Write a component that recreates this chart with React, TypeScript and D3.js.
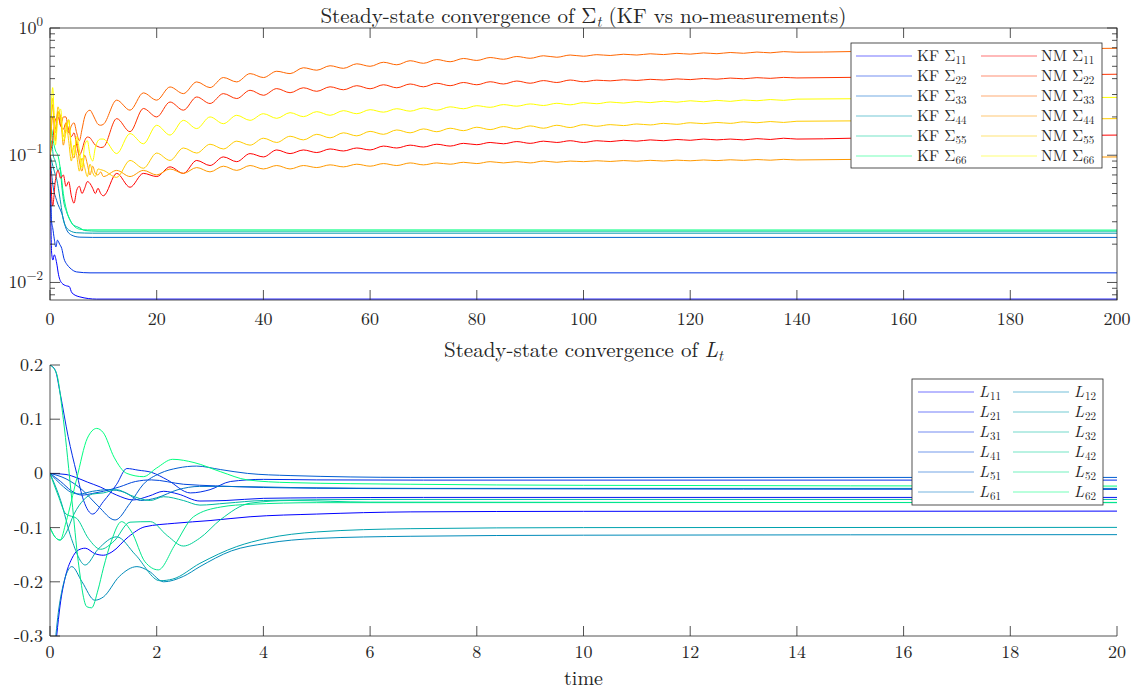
import React from 'react';
import * as d3 from 'd3';

// ---------- top panel: covariance diagonal, KF vs no-measurements ----------
const kf11 = [[0, 0.1], [0.1, 0.05], [0.2, 0.025], [0.31, 0.017], [0.55, 0.015], [0.8, 0.0165], [1.25, 0.0142], [1.6, 0.0115], [2.2, 0.0099], [3.1, 0.0094], [3.6, 0.0093], [4.1, 0.0083], [5.6, 0.0077], [8.75, 0.0074], [200, 0.0074]];
const kf22 = [[0, 0.1], [0.1, 0.06], [0.3, 0.03], [0.5, 0.027], [0.8, 0.022], [1.1, 0.019], [1.4, 0.0215], [1.8, 0.02], [2.2, 0.0185], [2.6, 0.0155], [3.2, 0.0138], [3.75, 0.013], [5, 0.0121], [7.5, 0.0119], [200, 0.0119]];
const kf33 = [[0, 0.1], [0.5, 0.06], [1.25, 0.044], [2.2, 0.035], [3.1, 0.026], [4.1, 0.0235], [5.6, 0.0227], [8, 0.0226], [200, 0.0226]];
const kf44 = [[0, 0.1], [0.3, 0.09], [0.8, 0.075], [1.25, 0.065], [1.9, 0.045], [2.5, 0.031], [3.1, 0.027], [3.75, 0.0255], [5, 0.0246], [8, 0.0244], [200, 0.0244]];
const kf55 = [[0, 0.1], [0.3, 0.13], [0.6, 0.1], [1.0, 0.09], [1.5, 0.075], [1.9, 0.08], [2.2, 0.058], [2.5, 0.045], [3.1, 0.036], [3.75, 0.031], [4.4, 0.0282], [5, 0.0275], [5.6, 0.0268], [6.5, 0.0256], [9, 0.0253], [200, 0.0253]];
const kf66 = [[0, 0.1], [0.3, 0.16], [0.6, 0.13], [1.0, 0.11], [1.56, 0.097], [2.0, 0.075], [2.5, 0.05], [3.1, 0.037], [3.75, 0.031], [4.7, 0.0273], [5.6, 0.0262], [7, 0.0259], [200, 0.0258]];

const nmTimeEarly = [0, 0.5, 1, 1.5, 2, 2.5, 3, 3.5, 4, 4.5, 5, 5.5, 6, 6.5, 7, 7.5, 8, 8.5, 9, 9.5];
const nmTimeWave = [10, 12.5, 15, 17.5, 20, 22.5, 25, 27.5, 30, 32.5, 35, 37.5, 40, 42.5, 45, 47.5, 50, 52.5, 55, 57.5, 60, 62.5, 65, 67.5, 70, 72.5, 75, 77.5, 80, 82.5, 85, 87.5, 90, 92.5, 95, 97.5, 100,
  102.5, 105, 107.5, 110, 112.5, 115, 117.5, 120, 122.5, 125, 127.5, 130, 132.5, 135, 137.5, 140];
const nmTimeTail = [160, 180, 200];

const nm11 = [0.1, 0.04, 0.063, 0.076, 0.066, 0.07, 0.057, 0.062, 0.048, 0.042, 0.053, 0.057, 0.05, 0.055, 0.062, 0.06, 0.055, 0.05, 0.055, 0.05,
  0.048, 0.072, 0.056, 0.072, 0.068, 0.081, 0.072, 0.091, 0.083, 0.097, 0.089, 0.103, 0.097, 0.110, 0.103, 0.110, 0.105, 0.112, 0.108, 0.114, 0.110, 0.118, 0.114, 0.120, 0.116, 0.122, 0.118, 0.124, 0.121, 0.126, 0.123, 0.128, 0.124, 0.129, 0.126, 0.130, 0.126,
  0.130, 0.128, 0.131, 0.129, 0.132, 0.130, 0.133, 0.131, 0.134, 0.132, 0.134, 0.132, 0.135, 0.133, 0.136, 0.134,
  0.139, 0.142, 0.144];
const nm22 = [0.1, 0.13, 0.19, 0.2, 0.17, 0.16, 0.18, 0.16, 0.14, 0.15, 0.12, 0.1, 0.11, 0.13, 0.139, 0.137, 0.128, 0.12, 0.117, 0.115,
  0.116, 0.194, 0.153, 0.233, 0.200, 0.262, 0.226, 0.287, 0.255, 0.305, 0.279, 0.324, 0.296, 0.334, 0.310, 0.339, 0.318, 0.345, 0.327, 0.352, 0.333, 0.358, 0.339, 0.363, 0.345, 0.368, 0.352, 0.373, 0.358, 0.378, 0.363, 0.383, 0.368, 0.386, 0.373, 0.390, 0.378,
  0.389, 0.384, 0.392, 0.387, 0.395, 0.390, 0.398, 0.393, 0.401, 0.396, 0.404, 0.399, 0.407, 0.402, 0.409, 0.405,
  0.416, 0.425, 0.433];
const nm33 = [0.1, 0.2, 0.16, 0.22, 0.17, 0.2, 0.2, 0.15, 0.17, 0.18, 0.15, 0.13, 0.16, 0.2, 0.22, 0.226, 0.21, 0.19, 0.175, 0.172,
  0.175, 0.271, 0.226, 0.309, 0.271, 0.344, 0.305, 0.377, 0.340, 0.408, 0.377, 0.438, 0.408, 0.457, 0.438, 0.487, 0.466, 0.505, 0.482, 0.523, 0.500, 0.538, 0.514, 0.553, 0.528, 0.565, 0.543, 0.576, 0.556, 0.586, 0.568, 0.597, 0.578, 0.605, 0.589, 0.613, 0.600,
  0.617, 0.608, 0.622, 0.613, 0.627, 0.618, 0.632, 0.623, 0.637, 0.628, 0.642, 0.633, 0.647, 0.638, 0.652, 0.645,
  0.665, 0.680, 0.693];
const nm44 = [0.1, 0.25, 0.13, 0.22, 0.2, 0.12, 0.16, 0.19, 0.11, 0.095, 0.13, 0.09, 0.075, 0.1, 0.085, 0.07, 0.082, 0.072, 0.07, 0.074,
  0.068, 0.076, 0.068, 0.076, 0.070, 0.078, 0.072, 0.080, 0.074, 0.082, 0.076, 0.083, 0.078, 0.083, 0.078, 0.083, 0.080, 0.084, 0.081, 0.085, 0.082, 0.086, 0.083, 0.087, 0.084, 0.087, 0.085, 0.088, 0.086, 0.089, 0.087, 0.089, 0.087, 0.090, 0.088, 0.090, 0.089,
  0.0905, 0.0893, 0.0908, 0.0897, 0.0912, 0.0900, 0.0915, 0.0904, 0.0918, 0.0907, 0.0921, 0.0911, 0.0925, 0.0914, 0.0928, 0.0918,
  0.094, 0.0955, 0.097];
const nm55 = [0.1, 0.28, 0.15, 0.24, 0.19, 0.14, 0.18, 0.13, 0.09, 0.12, 0.1, 0.075, 0.095, 0.08, 0.068, 0.085, 0.073, 0.068, 0.078, 0.077,
  0.076, 0.067, 0.091, 0.079, 0.104, 0.091, 0.114, 0.104, 0.122, 0.112, 0.129, 0.120, 0.136, 0.126, 0.141, 0.132, 0.146, 0.137, 0.150, 0.142, 0.154, 0.146, 0.158, 0.150, 0.161, 0.153, 0.163, 0.156, 0.166, 0.159, 0.168, 0.161, 0.170, 0.163, 0.172, 0.165, 0.174,
  0.169, 0.174, 0.171, 0.176, 0.173, 0.178, 0.175, 0.180, 0.177, 0.181, 0.178, 0.183, 0.180, 0.184, 0.181, 0.185,
  0.187, 0.191, 0.194];
const nm66 = [0.1, 0.34, 0.12, 0.2, 0.23, 0.13, 0.15, 0.19, 0.12, 0.1, 0.14, 0.11, 0.08, 0.12, 0.13, 0.1, 0.09, 0.115, 0.13, 0.134,
  0.134, 0.103, 0.148, 0.123, 0.172, 0.144, 0.188, 0.162, 0.200, 0.177, 0.206, 0.188, 0.212, 0.195, 0.216, 0.201, 0.220, 0.206, 0.224, 0.212, 0.228, 0.218, 0.232, 0.222, 0.235, 0.226, 0.240, 0.232, 0.245, 0.238, 0.250, 0.243, 0.253, 0.246, 0.256, 0.249, 0.259,
  0.254, 0.262, 0.257, 0.264, 0.259, 0.266, 0.261, 0.268, 0.263, 0.270, 0.265, 0.272, 0.268, 0.274, 0.270, 0.276,
  0.279, 0.282, 0.285];

const kfNames = ['11', '22', '33', '44', '55', '66'];
const kfColors = ['#0000ff', '#0033e6', '#0066cc', '#0099b3', '#00cc99', '#00ff80'];
const nmColors = ['#ff0000', '#ff3300', '#ff6600', '#ff9900', '#ffcc00', '#ffff00'];

// ---------- bottom panel: gain entries ----------
const L11 = [[0, -0.45], [0.125, -0.3], [0.19, -0.243], [0.28, -0.194], [0.41, -0.157], [0.53, -0.1415], [0.66, -0.138], [0.84, -0.148], [1.0, -0.151], [1.16, -0.145], [1.47, -0.117], [1.78, -0.0985], [2.34, -0.092], [3, -0.087], [3.75, -0.08], [5, -0.075], [6.75, -0.071], [10, -0.07], [20, -0.0696]];
const L21 = [[0, 0], [0.3, -0.002], [0.5, -0.008], [0.7, -0.016], [0.94, -0.025], [1.25, -0.04], [1.56, -0.049], [1.85, -0.042], [2.13, -0.033], [2.4, -0.038], [2.81, -0.051], [3.3, -0.05], [4, -0.046], [5, -0.045], [7, -0.0443], [20, -0.0443]];
const L31 = [[0, 0.2], [0.1, 0.19], [0.19, 0.148], [0.34, 0.068], [0.5, 0], [0.63, -0.05], [0.8, -0.075], [1.0, -0.052], [1.25, -0.02], [1.44, 0.009], [1.65, 0.006], [1.9, 0.002], [2.2, -0.012], [2.63, -0.036], [3.0, -0.03], [3.38, -0.015], [4, -0.011], [5, -0.012], [7, -0.0124], [20, -0.0124]];
const L41 = [[0, 0], [0.2, -0.015], [0.4, -0.032], [0.6, -0.04], [0.8, -0.037], [1.0, -0.033], [1.3, -0.025], [1.6, -0.015], [1.9, -0.012], [2.5, -0.02], [3.1, -0.023], [4, -0.026], [6, -0.028], [20, -0.0295]];
const L51 = [[0, 0], [0.3, -0.01], [0.6, -0.03], [0.9, -0.06], [1.22, -0.086], [1.5, -0.055], [1.75, -0.02], [2.06, 0], [2.4, 0.01], [2.75, 0.0135], [3.2, 0.007], [3.7, 0], [4.5, -0.004], [6.75, -0.0074], [20, -0.0074]];
const L61 = [[0, 0], [0.2, -0.02], [0.4, -0.035], [0.55, -0.038], [0.8, -0.033], [1.1, -0.03], [1.4, -0.035], [1.7, -0.05], [2.0, -0.045], [2.4, -0.03], [2.8, -0.024], [3.3, -0.024], [4.5, -0.026], [7, -0.0277], [20, -0.0277]];
const L12 = [[0, -0.45], [0.1, -0.31], [0.19, -0.234], [0.41, -0.172], [0.6, -0.2], [0.84, -0.234], [1.0, -0.228], [1.3, -0.19], [1.63, -0.172], [1.85, -0.18], [2.13, -0.2], [2.5, -0.19], [2.81, -0.172], [3.4, -0.143], [4.06, -0.129], [5, -0.12], [6.75, -0.116], [10, -0.114], [20, -0.113]];
const L22 = [[0, 0], [0.2, -0.05], [0.4, -0.12], [0.66, -0.169], [0.9, -0.14], [1.25, -0.117], [1.6, -0.15], [2.06, -0.198], [2.3, -0.195], [2.81, -0.166], [3.5, -0.135], [4.06, -0.12], [5, -0.108], [6.75, -0.102], [10, -0.1], [20, -0.0996]];
const L32 = [[0, -0.1], [0.1, -0.118], [0.19, -0.123], [0.3, -0.11], [0.45, -0.075], [0.63, -0.049], [0.8, -0.038], [1.0, -0.036], [1.25, -0.03], [1.5, -0.04], [1.88, -0.05], [2.13, -0.043], [2.5, -0.05], [2.81, -0.0585], [3.3, -0.055], [4, -0.05], [6, -0.048], [20, -0.048]];
const L42 = [[0, 0], [0.15, -0.04], [0.3, -0.075], [0.5, -0.083], [0.72, -0.12], [0.95, -0.14], [1.2, -0.125], [1.5, -0.09], [1.88, -0.089], [2.2, -0.115], [2.5, -0.134], [2.8, -0.12], [3.2, -0.085], [3.75, -0.055], [4.5, -0.05], [6, -0.053], [20, -0.054]];
const L52 = [[0, 0.2], [0.12, 0.185], [0.25, 0.1], [0.41, -0.049], [0.53, -0.163], [0.69, -0.246], [0.78, -0.248], [0.9, -0.215], [1.0, -0.175], [1.15, -0.125], [1.34, -0.089], [1.53, -0.108], [1.78, -0.163], [2.03, -0.178], [2.34, -0.132], [2.69, -0.08], [3.2, -0.062], [3.75, -0.057], [5, -0.054], [20, -0.0535]];
const L62 = [[0, -0.1], [0.1, -0.118], [0.19, -0.123], [0.3, -0.09], [0.5, -0.01], [0.7, 0.065], [0.875, 0.083], [1.0, 0.075], [1.2, 0.03], [1.44, 0], [1.75, -0.006], [2.0, 0.01], [2.3, 0.026], [2.7, 0.02], [3.2, 0.003], [3.7, -0.012], [4.5, -0.017], [6.75, -0.02], [10, -0.022], [20, -0.0234]];

const gainNames = ['11', '21', '31', '41', '51', '61', '12', '22', '32', '42', '52', '62'];
const gainColors = ['#0000ff', '#0017f3', '#002ee8', '#0046dc', '#005dd1', '#0074c5', '#008bb9', '#00a2ae', '#00b9a2', '#00d197', '#00e88b', '#00ff80'];

const topXTicks = [0, 20, 40, 60, 80, 100, 120, 140, 160, 180, 200];
const botXTicks = [0, 2, 4, 6, 8, 10, 12, 14, 16, 18, 20];
const botYTicks = [0.2, 0.1, 0, -0.1, -0.2, -0.3];
const botYLabels = ['0.2', '0.1', '0', '-0.1', '-0.2', '-0.3'];

const FONT = "'Latin Modern Roman','CMU Serif','DejaVu Serif',serif";
const AX = '#262626';
const TICK_FS = 18;
const TITLE_FS = 21;

const App = () => {
  const W = 1138, H = 690;
  const L = 50, R = 1117;

  const xTop = d3.scaleLinear().domain([0, 200]).range([L, R]);
  const yTop = d3.scaleLog().domain([0.00728, 1]).range([300, 28]);
  const xBot = d3.scaleLinear().domain([0, 20]).range([L, R]);
  const yBot = d3.scaleLinear().domain([-0.3, 0.2]).range([636, 365]);

  const lineTop = d3.line().x(d => xTop(d[0])).y(d => yTop(d[1])).curve(d3.curveMonotoneX);
  const lineBot = d3.line().x(d => xBot(d[0])).y(d => yBot(d[1])).curve(d3.curveMonotoneX);

  const nmTime = [...nmTimeEarly, ...nmTimeWave, ...nmTimeTail];
  const kfSeries = [kf11, kf22, kf33, kf44, kf55, kf66];
  const nmSeries = [nm11, nm22, nm33, nm44, nm55, nm66].map(vals => vals.map((v, i) => [nmTime[i], v]));
  const gainSeries = [L11, L21, L31, L41, L51, L61, L12, L22, L32, L42, L52, L62];

  const logTicks = yTop.ticks();
  const isMajor = v => Math.abs(Math.log10(v) - Math.round(Math.log10(v))) < 1e-9;

  return (
    <svg width={W} height={H} style={{ position: 'absolute', left: 0, top: 0, background: '#fff' }}
      fontFamily={FONT} fill={AX}>
      <defs>
        <clipPath id="clipTop"><rect x={L} y={28} width={R - L} height={272} /></clipPath>
        <clipPath id="clipBot"><rect x={L} y={365} width={R - L} height={271} /></clipPath>
      </defs>
      <rect width={W} height={H} fill="#fff" />

      {/* ---- top panel ---- */}
      <g clipPath="url(#clipTop)" fill="none" strokeWidth={1}>
        {kfSeries.map((s, i) => <path key={'kf' + i} d={lineTop(s)} stroke={kfColors[i]} />)}
        {nmSeries.map((s, i) => <path key={'nm' + i} d={lineTop(s)} stroke={nmColors[i]} />)}
      </g>
      <rect x={L} y={28} width={R - L} height={272} fill="none" stroke={AX} strokeWidth={0.8} />
      {topXTicks.map(t => (
        <g key={'tx' + t}>
          <line x1={xTop(t)} x2={xTop(t)} y1={300} y2={290} stroke={AX} strokeWidth={0.8} />
          <line x1={xTop(t)} x2={xTop(t)} y1={28} y2={38} stroke={AX} strokeWidth={0.8} />
          <text x={xTop(t)} y={325} textAnchor="middle" fontSize={TICK_FS}>{t}</text>
        </g>
      ))}
      {logTicks.map((v, i) => {
        const len = isMajor(v) ? 10 : 5;
        return (
          <g key={'ly' + i}>
            <line x1={L} x2={L + len} y1={yTop(v)} y2={yTop(v)} stroke={AX} strokeWidth={0.8} />
            <line x1={R} x2={R - len} y1={yTop(v)} y2={yTop(v)} stroke={AX} strokeWidth={0.8} />
          </g>
        );
      })}
      {logTicks.filter(isMajor).map(v => {
        const e = Math.round(Math.log10(v));
        return (
          <text key={'lyl' + e} x={43} y={yTop(v) + 6} textAnchor="end" fontSize={TICK_FS}>
            10<tspan dy={-8} fontSize={13}>{e === 0 ? '0' : '\u2212' + Math.abs(e)}</tspan>
          </text>
        );
      })}
      <text x={(L + R) / 2} y={23} textAnchor="middle" fontSize={TITLE_FS}>
        Steady-state convergence of Σ<tspan dy={4} fontSize={15} fontStyle="italic">t</tspan>
        <tspan dy={-4}> (KF vs no-measurements)</tspan>
      </text>

      {/* top legend */}
      <g>
        <rect x={851} y={43} width={251} height={125} fill="#fff" stroke={AX} strokeWidth={0.8} />
        {kfNames.map((n, i) => {
          const y = 56 + 20 * i;
          return (
            <g key={'lg' + n}>
              <line x1={856} x2={912} y1={y} y2={y} stroke={kfColors[i]} strokeOpacity={0.55} strokeWidth={1.2} />
              <text x={917} y={y + 5} fontSize={15.5}>KF Σ<tspan dy={3} fontSize={11}>{n}</tspan></text>
              <line x1={981} x2={1037} y1={y} y2={y} stroke={nmColors[i]} strokeOpacity={0.55} strokeWidth={1.2} />
              <text x={1041} y={y + 5} fontSize={15.5}>NM Σ<tspan dy={3} fontSize={11}>{n}</tspan></text>
            </g>
          );
        })}
      </g>

      {/* ---- bottom panel ---- */}
      <g clipPath="url(#clipBot)" fill="none" strokeWidth={1}>
        {gainSeries.map((s, i) => <path key={'g' + i} d={lineBot(s)} stroke={gainColors[i]} />)}
      </g>
      <line x1={L} x2={L} y1={365} y2={636} stroke={AX} strokeWidth={0.8} />
      <line x1={L} x2={R} y1={636} y2={636} stroke={AX} strokeWidth={0.8} />
      {botXTicks.map(t => (
        <g key={'bx' + t}>
          <line x1={xBot(t)} x2={xBot(t)} y1={636} y2={626} stroke={AX} strokeWidth={0.8} />
          <text x={xBot(t)} y={658} textAnchor="middle" fontSize={TICK_FS}>{t}</text>
        </g>
      ))}
      {botYTicks.map((v, i) => (
        <g key={'by' + i}>
          <line x1={L} x2={L + 10} y1={yBot(v)} y2={yBot(v)} stroke={AX} strokeWidth={0.8} />
          <text x={43} y={yBot(v) + 6} textAnchor="end" fontSize={TICK_FS}>{botYLabels[i]}</text>
        </g>
      ))}
      <text x={(L + R) / 2} y={357} textAnchor="middle" fontSize={TITLE_FS}>
        Steady-state convergence of <tspan fontStyle="italic">L</tspan>
        <tspan dy={4} fontSize={15} fontStyle="italic">t</tspan>
      </text>
      <text x={(L + R) / 2} y={685} textAnchor="middle" fontSize={20}>time</text>

      {/* bottom legend */}
      <g>
        <rect x={912} y={379} width={191} height={126} fill="#fff" stroke={AX} strokeWidth={0.8} />
        {gainNames.map((n, i) => {
          const col = i < 6 ? 0 : 1;
          const y = 392 + 20 * (i % 6);
          const lx = col === 0 ? 918 : 1013;
          return (
            <g key={'gl' + n}>
              <line x1={lx} x2={lx + 56} y1={y} y2={y} stroke={gainColors[i]} strokeOpacity={0.55} strokeWidth={1.2} />
              <text x={lx + 61} y={y + 5} fontSize={16}>
                <tspan fontStyle="italic">L</tspan><tspan dx={1} dy={3} fontSize={11}>{n}</tspan>
              </text>
            </g>
          );
        })}
      </g>
    </svg>
  );
};

export default App;
